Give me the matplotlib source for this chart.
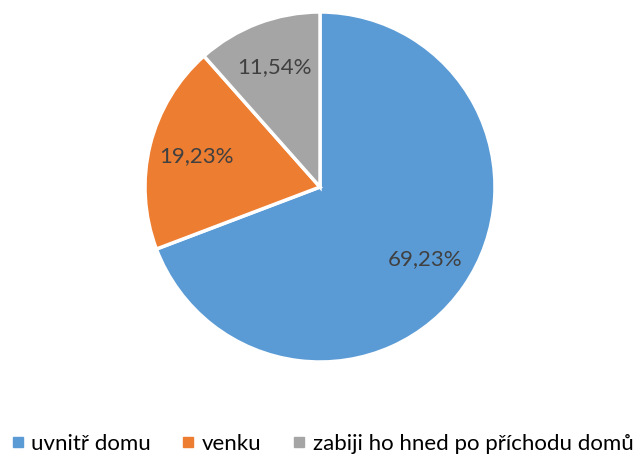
import matplotlib.pyplot as plt
from matplotlib.lines import Line2D

labels = ['uvnitř domu', 'venku', 'zabiji ho hned po příchodu domů']
values = [69.23, 19.23, 11.54]
colors = ['#5B9BD5', '#ED7D31', '#A5A5A5']

plt.rcParams['font.family'] = ['Lato', 'DejaVu Sans']

fig = plt.figure(figsize=(6.42, 4.58), dpi=100)
# pie center ~ (320, 187) px, radius ~175 px
cx, cy, r = 320, 458 - 187, 175
ax = fig.add_axes([(cx - r) / 642, (cy - r) / 458, 2 * r / 642, 2 * r / 458])

wedges, texts, autotexts = ax.pie(
    values, colors=colors, startangle=90, counterclock=False,
    autopct=lambda p: ('%.2f%%' % p).replace('.', ','), pctdistance=0.73,
    wedgeprops=dict(edgecolor='white', linewidth=2.5), radius=1)
for t in autotexts:
    t.set_color('#404040')
    t.set_fontsize(16)
ax.set_xlim(-1, 1)
ax.set_ylim(-1, 1)
ax.set_aspect('auto')
ax.axis('off')

handles = [Line2D([], [], marker='s', linestyle='', markersize=7,
                  markerfacecolor=c, markeredgecolor=c) for c in colors]
fig.legend(handles, labels, loc='center', bbox_to_anchor=(0.5, 1 - 444 / 458),
           ncol=3, frameon=False, fontsize=16, handletextpad=0.2,
           columnspacing=1.3, handlelength=0.8, labelcolor='#000000')

fig.savefig('out.png', dpi=100)
